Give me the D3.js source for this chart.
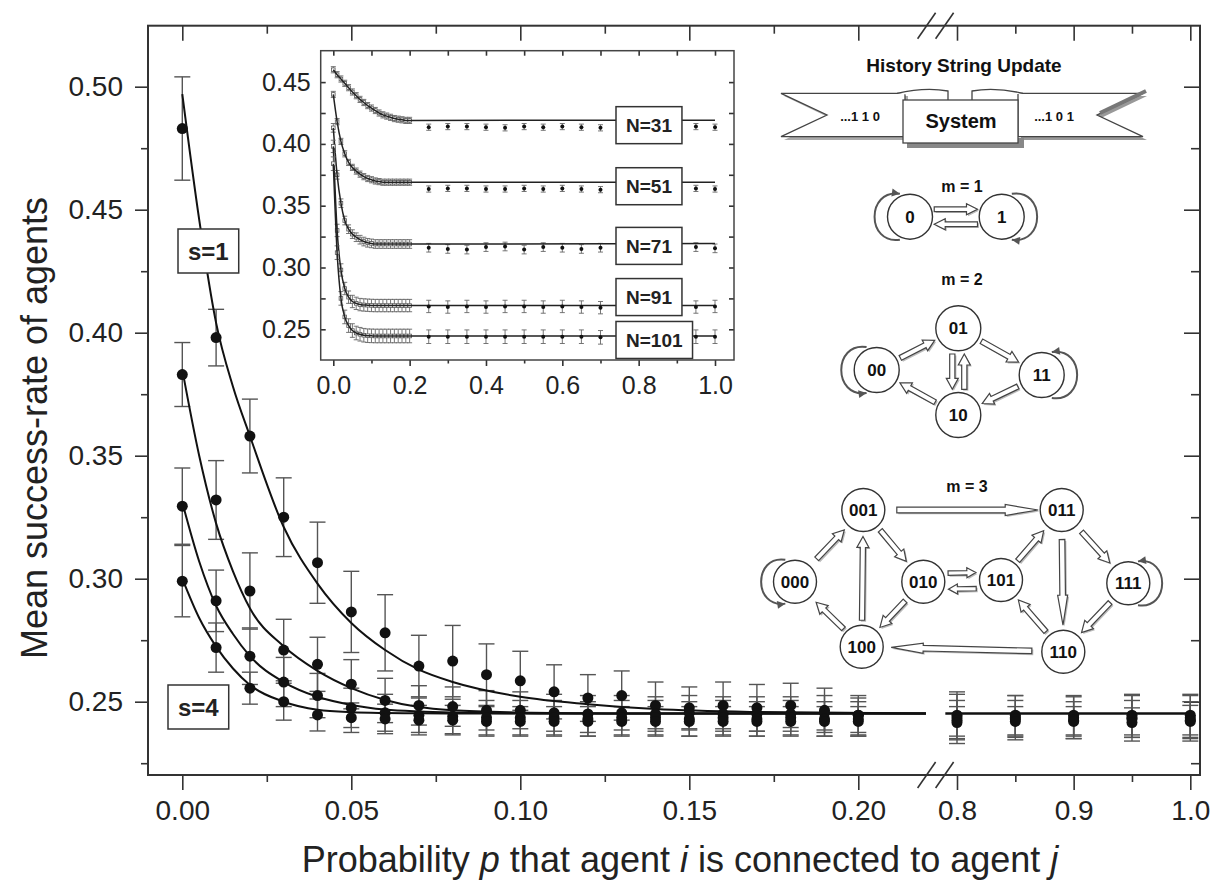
<!DOCTYPE html>
<html>
<head>
<meta charset="utf-8">
<script src="https://cdn.jsdelivr.net/npm/d3@7"></script>
<style>
  body { margin: 0; background: #fff; }
  svg { display: block; }
</style>
</head>
<body>
<svg width="1215" height="892"></svg>
<script>
// ---------- data ----------
const pAll = [0, 0.01, 0.02, 0.03, 0.04, 0.05, 0.06, 0.07, 0.08, 0.09, 0.10,
  0.11, 0.12, 0.13, 0.14, 0.15, 0.16, 0.17, 0.18, 0.19, 0.20,
  0.80, 0.85, 0.90, 0.95, 1.00];

const s1Mean = [0.483, 0.398, 0.358, 0.325, 0.3065, 0.2865, 0.278, 0.2645, 0.2665, 0.261, 0.2585,
  0.254, 0.2515, 0.2525, 0.2485, 0.2475, 0.2485, 0.2475, 0.2485, 0.2465, 0.2445,
  0.2435, 0.2435, 0.2435, 0.2435, 0.2435];
const s1Err = [0.021, 0.0115, 0.015, 0.016, 0.0165, 0.0165, 0.0155, 0.0125, 0.0145, 0.0125, 0.012,
  0.011, 0.0095, 0.010, 0.0095, 0.0085, 0.0095, 0.0095, 0.009, 0.009, 0.008,
  0.0105, 0.009, 0.0085, 0.0095, 0.0095];

const s2Mean = [0.383, 0.332, 0.295, 0.271, 0.2652, 0.2571, 0.2505, 0.2485, 0.248, 0.2465, 0.2465,
  0.2455, 0.245, 0.2455, 0.245, 0.2455, 0.245, 0.245, 0.245, 0.2455, 0.2445,
  0.2445, 0.2445, 0.2445, 0.2445, 0.2445];
const s2Err = [0.013, 0.016, 0.0155, 0.0125, 0.011, 0.010, 0.009, 0.008, 0.008, 0.008, 0.0075,
  0.0075, 0.0075, 0.007, 0.007, 0.007, 0.007, 0.007, 0.007, 0.007, 0.007,
  0.0085, 0.008, 0.008, 0.008, 0.008];

const s3Mean = [0.3295, 0.291, 0.2685, 0.258, 0.2525, 0.2475, 0.2455, 0.2445, 0.244, 0.2435, 0.2435,
  0.2435, 0.243, 0.2435, 0.2435, 0.243, 0.2435, 0.243, 0.2435, 0.243, 0.243,
  0.2425, 0.243, 0.2425, 0.243, 0.2425];
const s3Err = [0.0155, 0.0125, 0.0115, 0.010, 0.009, 0.008, 0.0075, 0.007, 0.007, 0.007, 0.007,
  0.007, 0.007, 0.007, 0.007, 0.007, 0.007, 0.007, 0.007, 0.007, 0.007,
  0.008, 0.0075, 0.0075, 0.0075, 0.0075];

const s4Mean = [0.299, 0.272, 0.2555, 0.250, 0.2446, 0.2435, 0.243, 0.2425, 0.2425, 0.242, 0.242,
  0.242, 0.242, 0.242, 0.242, 0.242, 0.242, 0.242, 0.242, 0.242, 0.242,
  0.2415, 0.242, 0.242, 0.2415, 0.242];
const s4Err = [0.0145, 0.010, 0.0065, 0.0075, 0.0065, 0.006, 0.006, 0.006, 0.006, 0.006, 0.006,
  0.006, 0.006, 0.006, 0.006, 0.006, 0.006, 0.006, 0.006, 0.006, 0.006,
  0.0065, 0.006, 0.006, 0.006, 0.0065];

// fitted curves, read at these p values
const fitP = [0, 0.005, 0.01, 0.015, 0.02, 0.03, 0.04, 0.05, 0.06, 0.07, 0.08, 0.10, 0.12, 0.14, 0.17, 0.22];
const fitS1 = [0.497, 0.446, 0.404, 0.378, 0.358, 0.321, 0.298, 0.282, 0.271, 0.263, 0.258, 0.252, 0.249, 0.247, 0.2458, 0.2452];
const fitS2 = [0.385, 0.350, 0.3225, 0.303, 0.288, 0.2725, 0.2625, 0.2555, 0.2507, 0.2478, 0.2465, 0.2456, 0.2453, 0.2452, 0.2452, 0.2452];
const fitS3 = [0.331, 0.307, 0.289, 0.2775, 0.2685, 0.258, 0.252, 0.2487, 0.2468, 0.246, 0.2456, 0.2453, 0.2452, 0.2452, 0.2452, 0.2452];
const fitS4 = [0.300, 0.284, 0.2724, 0.2635, 0.2568, 0.250, 0.2467, 0.2457, 0.2454, 0.2453, 0.2452, 0.2452, 0.2452, 0.2452, 0.2452, 0.2452];
const fitRightP = [0.79, 1.0];
const fitRightV = [0.2452, 0.2452];

// inset
const insetP = [0, 0.01, 0.02, 0.03, 0.04, 0.05, 0.06, 0.07, 0.08, 0.09, 0.10,
  0.11, 0.12, 0.13, 0.14, 0.15, 0.16, 0.17, 0.18, 0.19, 0.20];
const n31Dense = [0.460, 0.456, 0.4525, 0.449, 0.4455, 0.442, 0.439, 0.436, 0.4335, 0.431, 0.429,
  0.427, 0.425, 0.4235, 0.4225, 0.4215, 0.4205, 0.420, 0.4195, 0.419, 0.419];
const n51Dense = [0.440, 0.418, 0.402, 0.392, 0.385, 0.381, 0.378, 0.3755, 0.3735, 0.372, 0.371,
  0.370, 0.3695, 0.369, 0.369, 0.369, 0.369, 0.369, 0.369, 0.369, 0.369];
const n71Dense = [0.413, 0.375, 0.352, 0.338, 0.331, 0.327, 0.3245, 0.3225, 0.321, 0.320, 0.3195,
  0.319, 0.319, 0.319, 0.319, 0.319, 0.319, 0.319, 0.319, 0.319, 0.319];
const n91Dense = [0.398, 0.330, 0.298, 0.283, 0.276, 0.2725, 0.271, 0.270, 0.2697, 0.2695, 0.2693,
  0.2692, 0.2692, 0.2692, 0.2692, 0.2692, 0.2692, 0.2692, 0.2692, 0.2692, 0.2692];
const n101Dense = [0.384, 0.312, 0.275, 0.260, 0.253, 0.249, 0.247, 0.246, 0.2452, 0.2448, 0.2447,
  0.2446, 0.2446, 0.2446, 0.2446, 0.2446, 0.2446, 0.2446, 0.2446, 0.2446, 0.2446];

const insetSparseP = [0.25, 0.30, 0.35, 0.40, 0.45, 0.50, 0.55, 0.60, 0.65, 0.70, 0.75, 0.80, 0.85, 0.90, 0.95, 1.00];
const n31Sparse = [0.4135, 0.414, 0.414, 0.4135, 0.413, 0.414, 0.4135, 0.414, 0.4135, 0.413, 0.4135, 0.4135, 0.4135, 0.4135, 0.414, 0.4135];
const n51Sparse = [0.3635, 0.364, 0.364, 0.3635, 0.3635, 0.364, 0.3635, 0.364, 0.3635, 0.363, 0.3635, 0.3635, 0.3635, 0.3635, 0.364, 0.3635];
const n71Sparse = [0.316, 0.315, 0.3145, 0.3165, 0.317, 0.3145, 0.3165, 0.316, 0.315, 0.316, 0.316, 0.316, 0.316, 0.316, 0.3165, 0.3155];
const n91Sparse = [0.2685, 0.268, 0.2685, 0.268, 0.2685, 0.2685, 0.268, 0.2685, 0.268, 0.2675, 0.268, 0.268, 0.268, 0.268, 0.268, 0.2685];
const n101Sparse = [0.244, 0.244, 0.244, 0.244, 0.244, 0.244, 0.244, 0.244, 0.244, 0.2435, 0.244, 0.244, 0.244, 0.244, 0.244, 0.244];
const insetLevel = [0.4192, 0.3690, 0.3195, 0.2692, 0.2446];
const insetErr = [0.0025, 0.0025, 0.0035, 0.005, 0.0055];
const insetLabels = ['N=31', 'N=51', 'N=71', 'N=91', 'N=101'];

const font = '"Liberation Sans", Arial, Helvetica, sans-serif';
const ink = '#222';
const svg = d3.select('svg').attr('font-family', font);

// ---------- main frame & scales ----------
const fL = 148, fR = 1200, fT = 25.7, fB = 775;
const xL = d3.scaleLinear().domain([0, 0.2]).range([182.3, 858.3]);
const xR = d3.scaleLinear().domain([0.8, 1.0]).range([957, 1190.3]);
const xp = p => p < 0.5 ? xL(p) : xR(p);
const y = d3.scaleLinear().domain([0.25, 0.5]).range([701.7, 86.7]);

function tidy(g, size) {
  g.select('.domain').remove();
  g.attr('font-family', font).attr('font-size', size);
  g.selectAll('line').attr('stroke', '#333').attr('stroke-width', 1.6);
  g.selectAll('text').attr('fill', ink);
}
function axis(gen, tr, size) {
  const g = svg.append('g').attr('transform', tr).call(gen);
  tidy(g, size);
  return g;
}

// bottom (outward) and top (inward)
axis(d3.axisBottom(xL).tickValues([0, 0.05, 0.1, 0.15, 0.2]).tickFormat(d3.format('.2f')).tickSize(15).tickPadding(10), `translate(0,${fB})`, 28);
axis(d3.axisBottom(xL).tickValues([0.025, 0.075, 0.125, 0.175]).tickFormat('').tickSize(7), `translate(0,${fB})`, 28);
axis(d3.axisBottom(xR).tickValues([0.8, 0.9, 1.0]).tickFormat(d3.format('.1f')).tickSize(15).tickPadding(10), `translate(0,${fB})`, 28);
axis(d3.axisBottom(xR).tickValues([0.85, 0.95]).tickFormat('').tickSize(7), `translate(0,${fB})`, 28);
axis(d3.axisBottom(xL).tickValues([0, 0.05, 0.1, 0.15, 0.2]).tickFormat('').tickSize(15), `translate(0,${fT})`, 28);
axis(d3.axisBottom(xL).tickValues([0.025, 0.075, 0.125, 0.175]).tickFormat('').tickSize(8), `translate(0,${fT})`, 28);
axis(d3.axisBottom(xR).tickValues([0.8, 0.9, 1.0]).tickFormat('').tickSize(15), `translate(0,${fT})`, 28);
axis(d3.axisBottom(xR).tickValues([0.85, 0.95]).tickFormat('').tickSize(8), `translate(0,${fT})`, 28);
// left (outward) and right (inward)
const yMajor = [0.25, 0.30, 0.35, 0.40, 0.45, 0.50];
const yMinor = [0.225, 0.275, 0.325, 0.375, 0.425, 0.475];
axis(d3.axisLeft(y).tickValues(yMajor).tickFormat(d3.format('.2f')).tickSize(13).tickPadding(12), `translate(${fL},0)`, 28);
axis(d3.axisLeft(y).tickValues(yMinor).tickFormat('').tickSize(7), `translate(${fL},0)`, 28);
axis(d3.axisLeft(y).tickValues(yMajor).tickFormat('').tickSize(16), `translate(${fR},0)`, 28);
axis(d3.axisLeft(y).tickValues(yMinor).tickFormat('').tickSize(9), `translate(${fR},0)`, 28);

svg.append('rect')
  .attr('x', fL).attr('y', fT)
  .attr('width', fR - fL).attr('height', fB - fT)
  .attr('fill', 'none').attr('stroke', '#333').attr('stroke-width', 2);

// axis break marks
const breakX = (xL(0.22) + xR(0.79)) / 2;
[fT, fB].forEach(yy => {
  [-9, 9].forEach(dx => {
    svg.append('line')
      .attr('x1', breakX + dx - 9).attr('y1', yy + 13)
      .attr('x2', breakX + dx + 9).attr('y2', yy - 13)
      .attr('stroke', '#333').attr('stroke-width', 1.6);
  });
});

// ---------- main data ----------
const series = [
  { mean: s1Mean, err: s1Err, fit: fitS1 },
  { mean: s2Mean, err: s2Err, fit: fitS2 },
  { mean: s3Mean, err: s3Err, fit: fitS3 },
  { mean: s4Mean, err: s4Err, fit: fitS4 }
];

const gErr = svg.append('g').attr('stroke', '#555').attr('stroke-width', 1.4);
series.forEach(s => {
  const pts = pAll.map((p, i) => ({ x: xp(p), lo: y(s.mean[i] - s.err[i]), hi: y(s.mean[i] + s.err[i]) }));
  const g = gErr.append('g');
  g.selectAll('line.v').data(pts).join('line').attr('class', 'v')
    .attr('x1', d => d.x).attr('x2', d => d.x).attr('y1', d => d.lo).attr('y2', d => d.hi);
  g.selectAll('line.t').data(pts).join('line').attr('class', 't')
    .attr('x1', d => d.x - 8).attr('x2', d => d.x + 8).attr('y1', d => d.hi).attr('y2', d => d.hi);
  g.selectAll('line.b').data(pts).join('line').attr('class', 'b')
    .attr('x1', d => d.x - 8).attr('x2', d => d.x + 8).attr('y1', d => d.lo).attr('y2', d => d.lo);
});

const fitLine = d3.line().x(d => xp(d[0])).y(d => y(d[1])).curve(d3.curveMonotoneX);
series.forEach(s => {
  svg.append('path')
    .attr('d', fitLine(fitP.map((p, i) => [p, s.fit[i]])))
    .attr('fill', 'none').attr('stroke', '#111').attr('stroke-width', 2);
});
svg.append('path')
  .attr('d', fitLine(fitRightP.map((p, i) => [p, fitRightV[i]])))
  .attr('fill', 'none').attr('stroke', '#111').attr('stroke-width', 2.6);

series.forEach(s => {
  svg.append('g').selectAll('circle')
    .data(pAll.map((p, i) => [p, s.mean[i]]))
    .join('circle')
    .attr('cx', d => xp(d[0])).attr('cy', d => y(d[1])).attr('r', 5.5)
    .attr('fill', '#111');
});

function labelBox(g, x, yc, txt, size, h) {
  const t = g.append('text').attr('x', x).attr('y', yc).attr('dy', '0.36em')
    .attr('font-size', size).attr('font-weight', 'bold').attr('fill', ink).text(txt);
  const w = t.node().getComputedTextLength();
  g.insert('rect', 'text')
    .attr('x', x - 10).attr('y', yc - h / 2).attr('width', w + 20).attr('height', h)
    .attr('fill', '#fff').attr('stroke', '#333').attr('stroke-width', 1.5);
}
labelBox(svg.append('g'), 188, 251, 's=1', 24, 44);
labelBox(svg.append('g'), 178, 707, 's=4', 24, 44);

// ---------- inset ----------
const ins = { x0: 320.7, x1: 734, y0: 50.7, y1: 360 };
const xi = d3.scaleLinear().domain([0, 1]).range([333.3, 715]);
const yi = d3.scaleLinear().domain([0.25, 0.45]).range([329.3, 82.1]);

svg.append('rect').attr('x', ins.x0).attr('y', ins.y0)
  .attr('width', ins.x1 - ins.x0).attr('height', ins.y1 - ins.y0).attr('fill', '#fff');

const iyAll = d3.range(0, 9).map(i => 0.25 + i * 0.025);
axis(d3.axisLeft(yi).tickValues([0.25, 0.30, 0.35, 0.40, 0.45]).tickFormat(d3.format('.2f')).tickSize(0).tickPadding(10), `translate(${ins.x0},0)`, 25);
axis(d3.axisRight(yi).tickValues(iyAll).tickFormat('').tickSize(5), `translate(${ins.x0},0)`, 25);
axis(d3.axisLeft(yi).tickValues(iyAll).tickFormat('').tickSize(5), `translate(${ins.x1},0)`, 25);
axis(d3.axisBottom(xi).tickValues([0, 0.2, 0.4, 0.6, 0.8, 1.0]).tickFormat(d3.format('.1f')).tickSize(6).tickPadding(10), `translate(0,${ins.y1})`, 25);
axis(d3.axisBottom(xi).tickValues([0.1, 0.3, 0.5, 0.7, 0.9]).tickFormat('').tickSize(3.5), `translate(0,${ins.y1})`, 25);
axis(d3.axisBottom(xi).tickValues(d3.range(0, 11).map(i => i / 10)).tickFormat('').tickSize(5), `translate(0,${ins.y0})`, 25);

svg.append('rect').attr('x', ins.x0).attr('y', ins.y0)
  .attr('width', ins.x1 - ins.x0).attr('height', ins.y1 - ins.y0)
  .attr('fill', 'none').attr('stroke', '#444').attr('stroke-width', 1.5);

const insetSeries = [
  { dense: n31Dense, sparse: n31Sparse },
  { dense: n51Dense, sparse: n51Sparse },
  { dense: n71Dense, sparse: n71Sparse },
  { dense: n91Dense, sparse: n91Sparse },
  { dense: n101Dense, sparse: n101Sparse }
];
const insetLine = d3.line().x(d => xi(d[0])).y(d => yi(d[1])).curve(d3.curveMonotoneX);
const gIns = svg.append('g');
insetSeries.forEach((s, k) => {
  const e = insetErr[k];
  const dense = insetP.map((p, i) => [p, s.dense[i]]);
  const sparse = insetSparseP.map((p, i) => [p, s.sparse[i]]);
  const eg = gIns.append('g').attr('stroke', '#666').attr('stroke-width', 0.9);
  dense.concat(sparse).forEach(d => {
    const x = xi(d[0]), lo = yi(d[1] - e), hi = yi(d[1] + e);
    eg.append('line').attr('x1', x).attr('x2', x).attr('y1', lo).attr('y2', hi);
    eg.append('line').attr('x1', x - 2.5).attr('x2', x + 2.5).attr('y1', lo).attr('y2', lo);
    eg.append('line').attr('x1', x - 2.5).attr('x2', x + 2.5).attr('y1', hi).attr('y2', hi);
  });
  gIns.append('g').selectAll('rect').data(dense).join('rect')
    .attr('x', d => xi(d[0]) - 1.8).attr('y', d => yi(d[1]) - 1.8)
    .attr('width', 3.6).attr('height', 3.6)
    .attr('fill', '#fff').attr('stroke', '#555').attr('stroke-width', 0.8);
  gIns.append('path')
    .attr('d', insetLine(dense.concat([[1.0, insetLevel[k]]])))
    .attr('fill', 'none').attr('stroke', '#222').attr('stroke-width', 1.5);
  gIns.append('g').selectAll('circle').data(sparse).join('circle')
    .attr('cx', d => xi(d[0])).attr('cy', d => yi(d[1])).attr('r', 2)
    .attr('fill', '#111');
});
const insetBoxOffset = [5, 4, 2.5, -8.5, 4];
insetLabels.forEach((txt, k) => {
  labelBox(svg.append('g'), 626, yi(insetLevel[k]) + insetBoxOffset[k], txt, 19, 37);
});

// ---------- titles ----------
svg.append('text')
  .attr('transform', 'translate(47,428) rotate(-90)')
  .attr('text-anchor', 'middle').attr('font-size', 36).attr('fill', ink)
  .text('Mean success-rate of agents');

const xt = svg.append('text')
  .attr('x', 680).attr('y', 872).attr('text-anchor', 'middle')
  .attr('font-size', 36).attr('fill', ink);
[['Probability ', false], ['p', true], [' that agent ', false], ['i', true],
 [' is connected to agent ', false], ['j', true]].forEach(([t, it]) => {
  xt.append('tspan').attr('font-style', it ? 'italic' : 'normal').text(t);
});

// ---------- state diagrams ----------
const dg = svg.append('g').attr('font-family', font).attr('font-weight', 'bold').attr('fill', '#111');

function arrowShape(x1, y1, x2, y2, o) {
  const sw = o.sw || 2.6, hw = o.hw || 6, hl = o.hl || 10;
  const dx = x2 - x1, dy = y2 - y1, L = Math.hypot(dx, dy);
  const ux = dx / L, uy = dy / L, nx = -uy, ny = ux;
  const bx = x2 - ux * hl, by = y2 - uy * hl;
  return [[x1 + nx * sw, y1 + ny * sw], [bx + nx * sw, by + ny * sw], [bx + nx * hw, by + ny * hw],
    [x2, y2], [bx - nx * hw, by - ny * hw], [bx - nx * sw, by - ny * sw], [x1 - nx * sw, y1 - ny * sw]];
}
function drawArrow(pts) {
  dg.append('polygon').attr('points', pts.map(p => [p[0] + 1.5, p[1] + 1.5].join(',')).join(' '))
    .attr('fill', '#bbb');
  dg.append('polygon').attr('points', pts.map(p => p.join(',')).join(' '))
    .attr('fill', '#fff').attr('stroke', '#444').attr('stroke-width', 1.2);
}
function link(a, b, o = {}) {
  const off = o.off || 0, ga = o.ga == null ? 4 : o.ga, gb = o.gb == null ? 4 : o.gb;
  const dx = b.x - a.x, dy = b.y - a.y, L = Math.hypot(dx, dy);
  const ux = dx / L, uy = dy / L, nx = -uy, ny = ux;
  const sa = Math.sqrt(a.r * a.r - off * off) + ga, sb = Math.sqrt(b.r * b.r - off * off) + gb;
  drawArrow(arrowShape(a.x + ux * sa + nx * off, a.y + uy * sa + ny * off,
    b.x - ux * sb + nx * off, b.y - uy * sb + ny * off, o));
}
function node(n) {
  dg.append('circle').attr('cx', n.x).attr('cy', n.y).attr('r', n.r)
    .attr('fill', '#fff').attr('stroke', '#333').attr('stroke-width', 1.4);
  dg.append('text').attr('x', n.x).attr('y', n.y).attr('dy', '0.36em')
    .attr('text-anchor', 'middle').attr('font-size', 17).text(n.label);
}
function loop(n, side, headAtTop) {
  const r = n.r, cx = n.x, cy = n.y, s = side;
  const p1 = [cx + s * 0.45 * r, cy - 1.02 * r], c1 = [cx + s * 1.95 * r, cy - 1.25 * r];
  const c2 = [cx + s * 1.95 * r, cy + 1.25 * r], p2 = [cx + s * 0.45 * r, cy + 1.02 * r];
  dg.append('path').attr('d', `M${p1}C${c1} ${c2} ${p2}`)
    .attr('fill', 'none').attr('stroke', '#555').attr('stroke-width', 2);
  const tip = headAtTop ? p1 : p2, from = headAtTop ? c1 : c2;
  const dx = tip[0] - from[0], dy = tip[1] - from[1], L = Math.hypot(dx, dy);
  const ux = dx / L, uy = dy / L;
  const bx = tip[0] - ux * 8, by = tip[1] - uy * 8;
  dg.append('polygon')
    .attr('points', [[tip[0], tip[1]], [bx - uy * 4, by + ux * 4], [bx + uy * 4, by - ux * 4]].map(p => p.join(',')).join(' '))
    .attr('fill', '#555');
}
function title(x, yy, txt, size) {
  dg.append('text').attr('x', x).attr('y', yy).attr('text-anchor', 'middle').attr('font-size', size).text(txt);
}

// history string banner
title(964, 72, 'History String Update', 19);
const poly = (pts, fill, stroke) => dg.append('polygon')
  .attr('points', pts.map(p => p.join(',')).join(' '))
  .attr('fill', fill).attr('stroke', stroke || 'none').attr('stroke-width', 1.3);
poly([[784, 96], [908, 96], [908, 140], [784, 140], [830, 118]], '#aaa');
poly([[1021, 96], [1147, 96], [1101, 118], [1147, 140], [1021, 140]], '#999');
dg.append('rect').attr('x', 907).attr('y', 138).attr('width', 117).attr('height', 10).attr('fill', '#888');
poly([[781, 93.3], [905, 93.3], [905, 136.7], [781, 136.7], [827, 115]], '#fff', '#444');
poly([[1018, 93.3], [1143, 93.3], [1097, 115], [1143, 136.7], [1018, 136.7]], '#fff', '#444');
dg.append('path').attr('d', 'M1146,91 L1100,113').attr('stroke', '#777').attr('stroke-width', 4);
dg.append('path').attr('d', 'M897,93.3 Q925,87 948,91 L948,100').attr('fill', '#fff').attr('stroke', '#444').attr('stroke-width', 1.3);
dg.append('path').attr('d', 'M972,100 L972,91 Q995,87 1023,93.3').attr('fill', '#fff').attr('stroke', '#444').attr('stroke-width', 1.3);
dg.append('rect').attr('x', 903).attr('y', 100).attr('width', 115).attr('height', 43)
  .attr('fill', '#fff').attr('stroke', '#444').attr('stroke-width', 1.3);
title(961, 128, 'System', 20);
title(860, 121, '...1 1 0', 13);
title(1054, 121, '...1 0 1', 13);

// m = 1
title(962, 192, 'm = 1', 16);
const a0 = { x: 910, y: 216.7, r: 22.5, label: '0' };
const a1 = { x: 1001.7, y: 216.7, r: 22.5, label: '1' };
link(a0, a1, { off: -7.5, ga: 3, gb: 3, sw: 2.4, hw: 5.5, hl: 11 });
link(a1, a0, { off: -7.5, ga: 3, gb: 3, sw: 2.4, hw: 5.5, hl: 11 });
loop(a0, -1, true); loop(a1, 1, false);
[a0, a1].forEach(node);

// m = 2
title(962, 285, 'm = 2', 16);
const b00 = { x: 876.7, y: 370, r: 22.5, label: '00' };
const b01 = { x: 958.3, y: 328.3, r: 22.5, label: '01' };
const b11 = { x: 1041.7, y: 375, r: 22.5, label: '11' };
const b10 = { x: 958.3, y: 415, r: 22.5, label: '10' };
const am = { sw: 2.6, hw: 6, hl: 11 };
link(b00, b01, am); link(b01, b11, am); link(b11, b10, am); link(b10, b00, am);
link(b01, b10, Object.assign({ off: 6 }, am));
link(b10, b01, Object.assign({ off: 6 }, am));
loop(b00, -1, false); loop(b11, 1, true);
[b00, b01, b11, b10].forEach(node);

// m = 3
title(967, 492, 'm = 3', 16);
const c001 = { x: 863.3, y: 510, r: 21.5, label: '001' };
const c011 = { x: 1061.7, y: 510, r: 21.5, label: '011' };
const c000 = { x: 795, y: 581.7, r: 21.5, label: '000' };
const c010 = { x: 923.3, y: 581.7, r: 21.5, label: '010' };
const c101 = { x: 1001, y: 580, r: 21.5, label: '101' };
const c111 = { x: 1128.3, y: 583.3, r: 21.5, label: '111' };
const c100 = { x: 861.7, y: 646.7, r: 21.5, label: '100' };
const c110 = { x: 1063.3, y: 651.7, r: 21.5, label: '110' };
link(c000, c001, Object.assign({ ga: 10, gb: 6 }, am));
link(c001, c010, Object.assign({ ga: 5, gb: 5 }, am));
link(c100, c001, Object.assign({ ga: 5, gb: 5 }, am));
link(c010, c100, Object.assign({ ga: 5, gb: 5 }, am));
link(c100, c000, Object.assign({ ga: 4, gb: 8 }, am));
link(c010, c101, { off: -8, ga: 5, gb: 5, sw: 2.2, hw: 5, hl: 9 });
link(c101, c010, { off: -8, ga: 5, gb: 5, sw: 2.2, hw: 5, hl: 9 });
link(c101, c011, Object.assign({ ga: 4, gb: 6 }, am));
link(c011, c111, Object.assign({ ga: 8, gb: 6 }, am));
link(c111, c110, Object.assign({ ga: 5, gb: 5 }, am));
link(c110, c101, Object.assign({ ga: 5, gb: 5 }, am));
link(c011, c110, { ga: 8, gb: 5, sw: 2.8, hw: 5, hl: 30 });
link(c001, c011, { ga: 12, gb: 2, sw: 2.8, hw: 5.5, hl: 33 });
link(c110, c100, { ga: 10, gb: 8, sw: 2.8, hw: 5, hl: 32 });
loop(c000, -1, false); loop(c111, 1, true);
[c001, c011, c000, c010, c101, c111, c100, c110].forEach(node);
</script>
</body>
</html>
